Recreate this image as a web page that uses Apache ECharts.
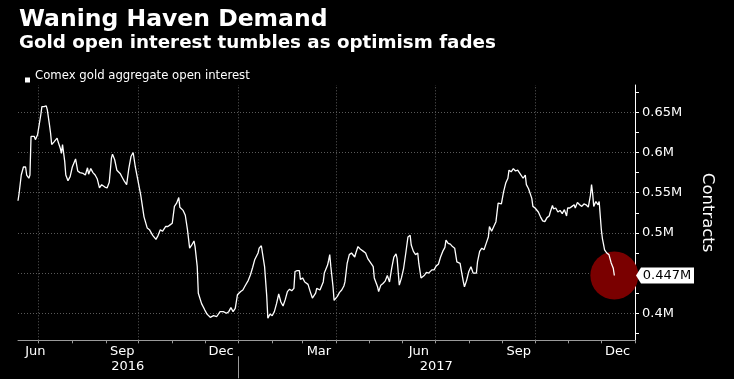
<!DOCTYPE html>
<html><head><meta charset="utf-8">
<script src="https://cdn.jsdelivr.net/npm/echarts@6/dist/echarts.min.js"></script>
<style>html,body{margin:0;padding:0;background:#000}#c{width:734px;height:379px}</style>
</head><body><div id="c"></div>
<script>
const titleText = 'Waning Haven Demand';
const subtitleText = 'Gold open interest tumbles as optimism fades';
const seriesName = 'Comex gold aggregate open interest';
const axisName = 'Contracts';

const dates = [
'2016-06-12','2016-06-13','2016-06-15','2016-06-17','2016-06-19','2016-06-20','2016-06-22','2016-06-23','2016-06-24','2016-06-25','2016-06-27','2016-06-28','2016-06-30',
'2016-07-01','2016-07-03','2016-07-04','2016-07-06','2016-07-08','2016-07-09','2016-07-11','2016-07-12','2016-07-13','2016-07-15','2016-07-18','2016-07-19','2016-07-21','2016-07-22','2016-07-23','2016-07-25','2016-07-26','2016-07-28','2016-07-30',
'2016-08-01','2016-08-04','2016-08-06','2016-08-08','2016-08-11','2016-08-13','2016-08-15','2016-08-16','2016-08-18','2016-08-20','2016-08-22','2016-08-24','2016-08-26','2016-08-28','2016-08-31',
'2016-09-02','2016-09-04','2016-09-06','2016-09-07','2016-09-09','2016-09-11','2016-09-14','2016-09-16','2016-09-18','2016-09-20','2016-09-22','2016-09-24','2016-09-26','2016-09-28','2016-09-30',
'2016-10-03','2016-10-06','2016-10-09','2016-10-11','2016-10-14','2016-10-17','2016-10-19','2016-10-21','2016-10-23','2016-10-26','2016-10-28','2016-10-30',
'2016-11-01','2016-11-03','2016-11-05','2016-11-07','2016-11-08','2016-11-11','2016-11-13','2016-11-15','2016-11-17','2016-11-19','2016-11-21','2016-11-22','2016-11-24','2016-11-25','2016-11-28',
'2016-12-01','2016-12-03','2016-12-06','2016-12-09','2016-12-12','2016-12-15','2016-12-18','2016-12-21','2016-12-23','2016-12-25','2016-12-27','2016-12-29','2016-12-31',
'2017-01-03','2017-01-05','2017-01-07','2017-01-10','2017-01-12','2017-01-14','2017-01-16','2017-01-19','2017-01-20','2017-01-22','2017-01-23','2017-01-25','2017-01-27','2017-01-28','2017-01-30',
'2017-02-01','2017-02-03','2017-02-05','2017-02-07','2017-02-09','2017-02-11','2017-02-13','2017-02-15','2017-02-17','2017-02-19','2017-02-21','2017-02-22','2017-02-24','2017-02-26','2017-02-27',
'2017-03-01','2017-03-03','2017-03-04','2017-03-06','2017-03-08','2017-03-10','2017-03-13','2017-03-14','2017-03-17','2017-03-18','2017-03-20','2017-03-21','2017-03-24','2017-03-25','2017-03-26','2017-03-27','2017-03-29','2017-03-30',
'2017-04-02','2017-04-04','2017-04-06','2017-04-08','2017-04-09','2017-04-11','2017-04-13','2017-04-15','2017-04-18','2017-04-19','2017-04-21','2017-04-23','2017-04-26','2017-04-28','2017-04-30',
'2017-05-03','2017-05-05','2017-05-06','2017-05-09','2017-05-10','2017-05-12','2017-05-14','2017-05-16','2017-05-18','2017-05-20','2017-05-22','2017-05-24','2017-05-26','2017-05-27','2017-05-29','2017-05-31',
'2017-06-02','2017-06-04','2017-06-06','2017-06-08','2017-06-09','2017-06-11','2017-06-13','2017-06-15','2017-06-16','2017-06-18','2017-06-21','2017-06-23','2017-06-25','2017-06-28','2017-06-30',
'2017-07-02','2017-07-04','2017-07-06','2017-07-08','2017-07-10','2017-07-11','2017-07-13','2017-07-15','2017-07-17','2017-07-19','2017-07-21','2017-07-24','2017-07-25','2017-07-27','2017-07-28','2017-07-30',
'2017-08-01','2017-08-03','2017-08-05','2017-08-08','2017-08-09','2017-08-11','2017-08-13','2017-08-15','2017-08-17','2017-08-19','2017-08-20','2017-08-22','2017-08-24','2017-08-26','2017-08-28','2017-08-29','2017-08-31',
'2017-09-02','2017-09-04','2017-09-06','2017-09-07','2017-09-09','2017-09-11','2017-09-13','2017-09-15','2017-09-17','2017-09-18','2017-09-20','2017-09-22','2017-09-23','2017-09-25','2017-09-26','2017-09-28','2017-09-29',
'2017-10-01','2017-10-04','2017-10-06','2017-10-08','2017-10-10','2017-10-12','2017-10-14','2017-10-15','2017-10-17','2017-10-18','2017-10-20','2017-10-22','2017-10-24','2017-10-26','2017-10-28','2017-10-30','2017-10-31',
'2017-11-02','2017-11-04','2017-11-06','2017-11-07','2017-11-09','2017-11-11','2017-11-13','2017-11-15','2017-11-17','2017-11-19','2017-11-21','2017-11-22','2017-11-23','2017-11-24','2017-11-26','2017-11-28','2017-11-29',
'2017-12-01','2017-12-02','2017-12-03','2017-12-04','2017-12-06','2017-12-08','2017-12-10','2017-12-12','2017-12-13'
];

const values = [
0.540,0.549,0.572,0.582,0.582,0.572,0.568,0.572,0.620,0.618,0.620,0.616,0.622,
0.623,0.647,0.657,0.657,0.658,0.653,0.634,0.624,0.610,0.613,0.618,0.613,0.605,0.599,0.610,0.589,0.572,0.565,0.570,
0.582,0.592,0.577,0.575,0.574,0.572,0.581,0.573,0.580,0.575,0.572,0.567,0.556,0.560,0.557,
0.556,0.563,0.593,0.598,0.591,0.578,0.574,0.569,0.564,0.560,0.580,0.595,0.600,0.582,0.568,
0.547,0.520,0.506,0.504,0.497,0.492,0.497,0.504,0.502,0.508,0.508,0.510,
0.512,0.533,0.537,0.544,0.532,0.528,0.522,0.504,0.481,0.485,0.490,0.483,0.458,0.425,0.412,
0.404,0.399,0.395,0.397,0.396,0.402,0.402,0.400,0.402,0.407,0.402,0.406,0.423,
0.427,0.429,0.434,0.441,0.448,0.457,0.467,0.475,0.481,0.484,0.482,0.458,0.421,0.394,0.399,
0.397,0.402,0.412,0.424,0.414,0.409,0.417,0.427,0.430,0.428,0.431,0.452,0.453,0.453,0.442,
0.444,0.439,0.441,0.436,0.427,0.419,0.425,0.431,0.429,0.431,0.439,0.450,0.460,0.466,0.473,0.458,0.433,0.416,
0.421,0.426,0.429,0.434,0.439,0.462,0.473,0.475,0.470,0.475,0.483,0.480,0.477,0.475,0.468,
0.462,0.458,0.444,0.433,0.427,0.435,0.437,0.440,0.447,0.439,0.456,0.470,0.474,0.468,0.435,0.444,
0.456,0.475,0.495,0.497,0.485,0.477,0.473,0.475,0.462,0.444,0.447,0.451,0.450,0.454,0.454,
0.459,0.461,0.470,0.477,0.482,0.491,0.487,0.486,0.483,0.481,0.464,0.462,0.454,0.439,0.433,0.441,
0.452,0.458,0.450,0.450,0.464,0.477,0.481,0.479,0.487,0.495,0.508,0.502,0.508,0.514,0.537,0.538,0.536,
0.551,0.562,0.568,0.578,0.576,0.580,0.577,0.578,0.574,0.573,0.568,0.572,0.560,0.555,0.557,0.543,0.533,
0.531,0.526,0.520,0.515,0.514,0.519,0.521,0.526,0.534,0.530,0.531,0.526,0.528,0.524,0.529,0.521,0.531,
0.531,0.533,0.535,0.531,0.538,0.535,0.533,0.536,0.535,0.532,0.547,0.560,0.549,0.533,0.539,0.535,0.539,
0.504,0.493,0.486,0.479,0.475,0.473,0.463,0.456,0.447
];

const xMin = '2016-06-12';
const xMax = '2018-01-01';
const yMin = 0.3664;
const yMax = 0.684;

const monthTickDates = ['2016-07-01','2016-08-01','2016-09-01','2016-10-01','2016-11-01','2016-12-01',
  '2017-01-01','2017-02-01','2017-03-01','2017-04-01','2017-05-01','2017-06-01','2017-07-01','2017-08-01',
  '2017-09-01','2017-10-01','2017-11-01','2017-12-01','2018-01-01'];
const quarterGridDates = ['2016-07-01','2016-10-01','2017-01-01','2017-04-01','2017-07-01','2017-10-01'];
const monthLabelDates = ['2016-06-28','2016-09-16','2016-12-16','2017-03-16','2017-06-16','2017-09-16','2017-12-16'];
const monthLabels = ['Jun','Sep','Dec','Mar','Jun','Sep','Dec'];
const yearLabelDates = ['2016-09-21','2017-07-02'];
const yearLabels = ['2016','2017'];
const yearSeparatorDates = ['2017-01-01'];

const yTickValues = [0.375,0.4,0.425,0.45,0.475,0.5,0.525,0.55,0.575,0.6,0.625,0.65,0.675];
const yLabelValues = [0.4,0.5,0.55,0.6,0.65];
const yGridValues = [0.4,0.45,0.5,0.55,0.6,0.65];

const FONT = 'DejaVu Sans';
const t = s => Date.UTC(+s.slice(0, 4), +s.slice(5, 7) - 1, +s.slice(8, 10));
const fmtM = v => (Math.round(v * 1000) / 1000) + 'M';

const lineData = dates.map((d, i) => [t(d), values[i]]);
const last = lineData[lineData.length - 1];
const monthLabelTimes = monthLabelDates.map(t);
const yearLabelTimes = yearLabelDates.map(t);
const nearestLabel = (v, times, labels) => {
  let best = -1, bd = Infinity;
  times.forEach((tt, i) => { const d = Math.abs(tt - v); if (d < bd) { bd = d; best = i; } });
  return bd < 864e5 ? labels[best] : '';
};

const chart = echarts.init(document.getElementById('c'), null, {renderer: 'canvas'});
chart.setOption({
  backgroundColor: '#000',
  animation: false,
  title: [
    {text: titleText, left: 19, top: 7.5, padding: 0, textStyle: {color: '#fff', fontFamily: FONT, fontWeight: 'bold', fontSize: 23.5}},
    {text: subtitleText, left: 19, top: 34, padding: 0, textStyle: {color: '#fff', fontFamily: FONT, fontWeight: 'bold', fontSize: 18.3}}
  ],
  legend: {
    data: [seriesName], left: 25, top: 68.5, padding: 0, itemWidth: 5, itemHeight: 14, itemGap: 0,
    icon: 'path://M0,0h5v0.01h-5zM0,9h5v5h-5z',
    itemStyle: {color: '#fff', borderWidth: 0},
    textStyle: {color: '#fff', fontFamily: FONT, fontSize: 11.7},
    selectedMode: false
  },
  grid: {left: 18, right: 99, top: 85, bottom: 38.7, containLabel: false},
  xAxis: [
    {
      type: 'value', min: t(xMin), max: t(xMax), scale: true,
      axisLine: {show: true, lineStyle: {color: '#9a9a9a', width: 1}},
      axisTick: {show: true, customValues: monthTickDates.map(t), length: 3, lineStyle: {color: '#9a9a9a'}},
      axisLabel: {
        customValues: monthLabelTimes, margin: 5, color: '#fff', fontFamily: FONT, fontSize: 13,
        formatter: v => nearestLabel(v, monthLabelTimes, monthLabels)
      },
      splitLine: {show: false}
    },
    {
      type: 'value', min: t(xMin), max: t(xMax), scale: true, position: 'bottom', offset: 16,
      axisLine: {show: false},
      axisTick: {show: true, customValues: yearSeparatorDates.map(t), length: 22, lineStyle: {color: '#9a9a9a'}},
      axisLabel: {
        customValues: yearLabelTimes, margin: 4, color: '#fff', fontFamily: FONT, fontSize: 13,
        formatter: v => nearestLabel(v, yearLabelTimes, yearLabels)
      },
      splitLine: {show: false}
    }
  ],
  yAxis: {
    type: 'value', position: 'right', min: yMin, max: yMax, scale: true,
    axisLine: {show: true, lineStyle: {color: '#fff', width: 1}},
    axisTick: {show: true, customValues: yTickValues, length: 4, lineStyle: {color: '#fff'}},
    axisLabel: {customValues: yLabelValues, margin: 7, color: '#fff', fontFamily: FONT, fontSize: 13, formatter: fmtM},
    splitLine: {show: false},
    name: axisName, nameLocation: 'middle', nameRotate: -90, nameGap: 64,
    nameTextStyle: {color: '#fff', fontFamily: FONT, fontSize: 16.5}
  },
  series: [
    {
      name: 'marker', type: 'scatter', data: [last], symbolSize: 48, z: 2, silent: true,
      itemStyle: {color: '#7a0000', opacity: 1}
    },
    {
      name: seriesName, type: 'line', data: lineData, showSymbol: false, z: 3,
      lineStyle: {color: '#fff', width: 1.3}, itemStyle: {color: '#fff'},
      markLine: {
        silent: true, symbol: 'none', z: 1, animation: false,
        label: {show: false},
        lineStyle: {color: '#5a5a5a', type: [1, 2], width: 1},
        data: yGridValues.map(v => ({yAxis: v})).concat(quarterGridDates.map(d => ({xAxis: t(d)})))
      },
      markPoint: {
        silent: true, z: 6, animation: false,
        data: [{
          coord: [t(xMax), last[1]],
          symbol: 'path://M0,8L5,0L58,0L58,16L5,16Z',
          symbolSize: [58, 16], symbolOffset: [30, 0],
          itemStyle: {color: '#fff'},
          label: {show: true, position: 'inside', offset: [2, 0], color: '#000', fontFamily: FONT, fontSize: 13,
            formatter: () => fmtM(last[1])}
        }]
      }
    }
  ]
});
</script></body></html>
